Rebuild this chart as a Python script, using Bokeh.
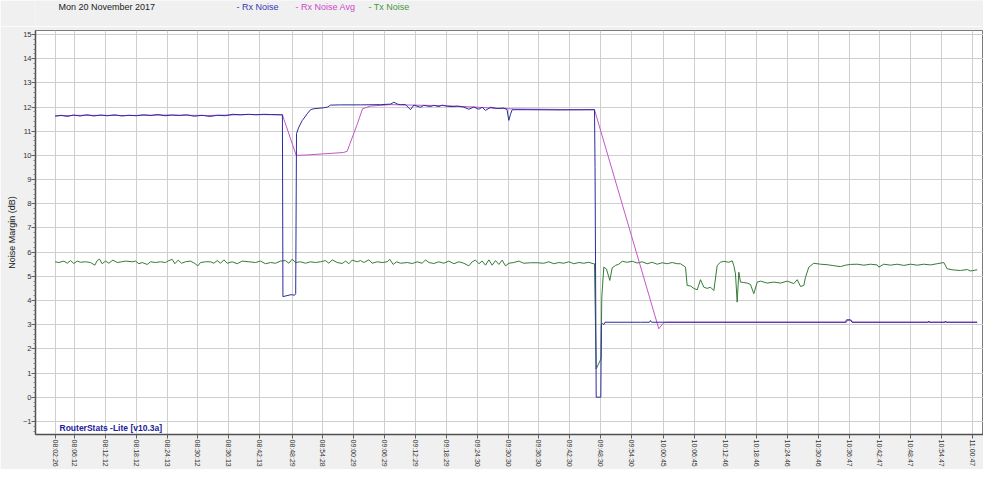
import numpy as np
from bokeh.plotting import figure
from bokeh.layouts import column
from bokeh.models import Range1d, FixedTicker, Label
from bokeh.core.properties import value
from bokeh.embed import file_html
from bokeh.resources import INLINE

# ---- data (x: minutes after 08:00:00, y: dB) ----
rx_t = [2.43, 3.6, 4.8, 6.0, 7.3, 8.6, 10.0, 11.3, 12.6, 14.0, 15.4, 16.8, 18.2, 19.6, 21.0,
        22.4, 23.8, 25.2, 26.6, 28.0, 29.5, 31.0, 32.5, 34.0, 35.5, 37.0, 38.5, 40.0, 41.5,
        43.0, 44.5, 46.3, 46.62, 46.72, 47.5, 48.3, 49.0, 49.2, 49.36, 49.81, 50.47, 51.44,
        52.08, 52.73, 54.67, 55.39, 55.97, 57.9, 61.8, 65.69, 67.63, 68.28, 69.0, 69.58,
        70.55, 71.52, 72.16, 73.47, 74.11, 75.41, 76.05, 77.03, 77.69, 78.66, 79.94, 80.6,
        81.83, 82.86, 83.83, 84.8, 85.46, 86.1, 87.07, 88.38, 89.66, 90.28, 90.63, 90.96,
        91.29, 94.21, 100.68, 107.29, 107.4, 107.62, 108.52, 108.62, 108.85, 109.1, 109.33,
        116.24, 117.99, 118.18, 118.38, 156.09, 156.28, 157.06, 157.35, 172.12, 172.28,
        172.42, 175.4, 175.53, 175.69, 181.69]
rx_v = [11.62, 11.66, 11.61, 11.67, 11.63, 11.68, 11.63, 11.67, 11.64, 11.68, 11.63, 11.66,
        11.64, 11.68, 11.65, 11.69, 11.64, 11.67, 11.65, 11.68, 11.62, 11.66, 11.61, 11.66,
        11.64, 11.70, 11.68, 11.70, 11.68, 11.70, 11.69, 11.68, 11.68, 4.16, 4.20, 4.24,
        4.22, 4.28, 10.90, 11.17, 11.44, 11.72, 11.89, 11.93, 11.97, 12.00, 12.08, 12.09,
        12.09, 12.10, 12.12, 12.20, 12.12, 12.10, 12.10, 11.89, 12.08, 11.99, 12.07, 12.02,
        12.07, 12.02, 12.08, 12.03, 12.02, 12.04, 12.00, 11.91, 12.00, 11.91, 11.99, 11.86,
        11.99, 11.94, 11.96, 11.90, 11.45, 11.70, 11.89, 11.89, 11.88, 11.89, 9.50, 0.0,
        0.0, 3.03, 3.05, 3.00, 3.10, 3.10, 3.10, 3.17, 3.10, 3.10, 3.20, 3.20, 3.10, 3.10,
        3.15, 3.10, 3.10, 3.15, 3.10, 3.10]

avg_t = [2.43, 8.0, 16.0, 24.0, 32.0, 40.0, 46.62, 49.3, 51.5, 58.5, 59.2, 61.2, 62.2,
         63.75, 67.6, 72.0, 78.0, 84.0, 88.0, 92.0, 100.0, 107.29, 119.79, 120.76, 121.29,
         156.28, 156.47, 157.25, 157.45, 181.69]
avg_v = [11.64, 11.66, 11.65, 11.67, 11.65, 11.69, 11.68, 10.00, 10.02, 10.12, 10.17, 11.31,
         11.93, 12.04, 12.10, 12.08, 12.06, 12.00, 11.95, 11.92, 11.90, 11.89, 2.83, 3.08,
         3.10, 3.10, 3.18, 3.18, 3.10, 3.10]

tx_t = [2.43, 3.16, 4.13, 4.78, 5.43, 6.08, 6.72, 7.37, 8.34, 9.32, 10.16, 10.61, 11.07,
        11.58, 12.23, 12.88, 13.66, 14.50, 15.34, 16.12, 17.42, 18.06, 18.71, 19.36, 20.33,
        20.98, 21.95, 22.92, 23.90, 24.54, 25.19, 25.71, 26.36, 27.01, 27.78, 28.76, 29.60,
        30.18, 30.70, 31.67, 32.64, 33.29, 33.94, 34.59, 35.24, 35.88, 36.86, 37.83, 38.80,
        40.10, 41.39, 42.36, 43.34, 44.31, 45.28, 46.25, 47.22, 47.87, 48.52, 49.17, 50.14,
        51.11, 52.08, 53.05, 54.03, 55.00, 55.65, 56.30, 57.27, 58.24, 58.89, 59.54, 60.18,
        61.16, 61.80, 62.45, 63.42, 64.07, 65.04, 66.02, 66.99, 67.50, 68.15, 68.80, 69.58,
        70.88, 71.85, 72.82, 73.79, 74.44, 75.09, 76.06, 77.03, 78.00, 78.98, 79.95, 80.92,
        81.89, 82.86, 83.51, 84.16, 84.81, 85.45, 86.10, 86.75, 87.40, 88.05, 88.70, 89.34,
        89.99, 90.64, 91.61, 92.58, 93.55, 94.85, 96.15, 97.44, 98.41, 99.39, 100.36,
        101.33, 102.30, 103.27, 104.25, 105.22, 106.19, 107.03, 107.29, 107.62, 108.56,
        108.71, 109.10, 109.62, 110.27, 110.73, 111.37, 112.02, 112.68, 113.65, 114.62,
        115.59, 116.56, 117.53, 118.51, 119.48, 120.45, 121.42, 122.40, 123.37, 124.01,
        124.98, 125.31, 125.96, 126.60, 127.26, 127.90, 128.54, 129.20, 129.84, 130.49,
        131.15, 131.79, 132.43, 133.40, 134.06, 134.37, 134.70, 135.03, 135.35, 135.68,
        136.32, 136.98, 137.62, 138.26, 138.92, 139.56, 140.86, 142.15, 143.45, 144.75,
        146.04, 146.70, 147.34, 147.98, 148.31, 148.96, 149.93, 151.23, 152.52, 153.81,
        155.12, 156.08, 157.06, 158.36, 159.65, 160.95, 162.25, 162.56, 163.53, 164.83,
        166.14, 167.43, 168.72, 170.02, 171.31, 172.61, 173.91, 175.20, 175.85, 177.14,
        178.44, 179.75, 180.39, 181.69]
tx_v = [5.60, 5.57, 5.63, 5.54, 5.65, 5.53, 5.63, 5.58, 5.60, 5.57, 5.46, 5.65, 5.71, 5.52,
        5.63, 5.54, 5.67, 5.57, 5.60, 5.63, 5.60, 5.63, 5.52, 5.57, 5.49, 5.60, 5.57, 5.60,
        5.57, 5.65, 5.70, 5.52, 5.67, 5.54, 5.60, 5.63, 5.53, 5.43, 5.57, 5.60, 5.60, 5.54,
        5.65, 5.54, 5.68, 5.54, 5.60, 5.52, 5.63, 5.60, 5.57, 5.63, 5.52, 5.57, 5.54, 5.63,
        5.65, 5.54, 5.71, 5.57, 5.60, 5.54, 5.60, 5.57, 5.60, 5.65, 5.54, 5.68, 5.57, 5.53,
        5.63, 5.52, 5.67, 5.60, 5.65, 5.57, 5.68, 5.54, 5.60, 5.57, 5.60, 5.70, 5.49, 5.60,
        5.54, 5.57, 5.53, 5.60, 5.54, 5.68, 5.57, 5.53, 5.60, 5.54, 5.63, 5.52, 5.60, 5.54,
        5.43, 5.60, 5.67, 5.52, 5.63, 5.46, 5.68, 5.46, 5.65, 5.49, 5.67, 5.43, 5.54, 5.57,
        5.63, 5.54, 5.56, 5.56, 5.54, 5.60, 5.52, 5.57, 5.54, 5.60, 5.52, 5.57, 5.54, 5.58,
        5.52, 5.52, 1.17, 1.59, 4.14, 5.38, 5.30, 4.83, 5.35, 5.45, 5.50, 5.62, 5.58, 5.62,
        5.55, 5.60, 5.52, 5.58, 5.50, 5.56, 5.52, 5.57, 5.52, 5.52, 5.38, 4.62, 4.60, 4.50,
        4.44, 4.86, 4.55, 4.50, 4.55, 4.41, 5.45, 5.58, 5.62, 5.58, 5.64, 5.45, 5.10, 3.93,
        5.17, 4.76, 4.74, 4.72, 4.66, 4.28, 4.76, 4.80, 4.72, 4.76, 4.72, 4.80, 4.70, 4.86,
        4.58, 4.62, 4.96, 5.38, 5.54, 5.50, 5.48, 5.44, 5.40, 5.46, 5.49, 5.50, 5.46, 5.50,
        5.47, 5.38, 5.50, 5.46, 5.50, 5.45, 5.50, 5.46, 5.50, 5.47, 5.52, 5.57, 5.31, 5.26,
        5.24, 5.28, 5.22, 5.27]

tick_labels = ["08:02:26", "08:06:12", "08:12:12", "08:18:12", "08:24:13", "08:30:12",
               "08:36:13", "08:42:13", "08:48:29", "08:54:28", "09:00:29", "09:06:29",
               "09:12:29", "09:18:29", "09:24:30", "09:30:30", "09:36:30", "09:42:30",
               "09:48:30", "09:54:30", "10:00:45", "10:06:45", "10:12:46", "10:18:46",
               "10:24:46", "10:30:46", "10:36:47", "10:42:47", "10:48:47", "10:54:47",
               "11:00:47"]
y_labels = list(range(-1, 16))

title_text = "Mon 20 November 2017"
series_names = ["- Rx Noise", "- Rx Noise Avg", "- Tx Noise"]
footer_text = "RouterStats -Lite [v10.3a]"

# ---- styles ----
C_RX = "#2c2c9c"
C_AVG = "#c455c8"
C_TX = "#367a36"
LEGEND_COLORS = ["#3838b0", "#cc48cc", "#3f983f"]
FONT = "Liberation Sans"
BG = "#f0f0f0"


def secs(s):
    h, m, ss = map(int, s.split(":"))
    return (h - 8) * 3600 + m * 60 + ss


tick_pos = [secs(s) for s in tick_labels]
xr = Range1d(-83, 10975)

# ---- header strip (date + coloured series names) ----
hdr = figure(width=983, height=26, output_backend="svg", toolbar_location=None,
             x_range=xr, y_range=Range1d(26, 0), x_axis_location=None,
             y_axis_location=None, min_border_left=35, min_border_right=0,
             min_border_top=0, min_border_bottom=0)
hdr.grid.visible = False
hdr.outline_line_color = None
hdr.background_fill_color = BG
hdr.border_fill_color = BG
hdr.text(x=[3.09 * 60], y=[6], text=[title_text], text_font=value(FONT),
         text_font_size="9px", text_color="#222222", text_baseline="middle")
hdr.text(x=[m * 60 for m in [37.7, 49.17, 63.36]], y=[6, 6, 6], text=series_names,
         text_font=value(FONT), text_font_size="9px", text_color=LEGEND_COLORS,
         text_baseline="middle")

# ---- main chart ----
p = figure(width=983, height=443, output_backend="svg", toolbar_location=None,
           x_range=xr, y_range=Range1d(-1.543, 15.166),
           min_border_left=35, min_border_right=0, min_border_top=4,
           min_border_bottom=35)
p.background_fill_color = "white"
p.border_fill_color = BG
p.outline_line_color = "#7a7a7a"
p.outline_line_width = 1

xa = p.xaxis[0]
xa.ticker = FixedTicker(ticks=tick_pos)
xa.major_label_overrides = {pos: lab for pos, lab in zip(tick_pos, tick_labels)}
xa.major_label_orientation = "vertical"
xa.major_label_text_font = FONT
xa.major_label_text_font_size = "7px"
xa.major_label_text_color = "#333333"
xa.major_label_standoff = 1
xa.major_tick_out = 4
xa.major_tick_in = 0
xa.minor_tick_out = 0
xa.axis_line_color = "#505050"
xa.axis_line_width = 1.5
xa.major_tick_line_color = "#606060"

ya = p.yaxis[0]
minor = [round(v, 1) for v in np.arange(-1.4, 15.2, 0.2) if abs(v - round(v)) > 1e-6]
ya.ticker = FixedTicker(ticks=y_labels, minor_ticks=minor)
ya.major_label_text_font = FONT
ya.major_label_text_font_size = "7.5px"
ya.major_label_text_color = "#333333"
ya.major_label_standoff = 0
ya.major_tick_out = 4
ya.major_tick_in = 0
ya.minor_tick_out = 2
ya.minor_tick_in = 0
ya.axis_line_color = "#505050"
ya.axis_line_width = 1.5
ya.major_tick_line_color = "#606060"
ya.minor_tick_line_color = "#808080"
ya.axis_label = "Noise Margin (dB)"
ya.axis_label_text_font = FONT
ya.axis_label_text_font_size = "9px"
ya.axis_label_text_font_style = "normal"
ya.axis_label_text_color = "#222222"
ya.axis_label_standoff = 3

p.xgrid.grid_line_color = "#cfcfcf"
p.ygrid.grid_line_color = "#cfcfcf"

p.line([t * 60 for t in tx_t], tx_v, line_color=C_TX, line_width=1)
p.line([t * 60 for t in avg_t], avg_v, line_color=C_AVG, line_width=1)
p.line([t * 60 for t in rx_t], rx_v, line_color=C_RX, line_width=1)

p.add_layout(Label(x=3.29 * 60, y=-1.50, text=footer_text, text_font=FONT,
                   text_font_size="8.5px", text_font_style="bold", text_color="#2020a0",
                   text_baseline="bottom"))

layout = column(hdr, p, spacing=0)
open("out.html", "w").write(file_html(layout, INLINE))
